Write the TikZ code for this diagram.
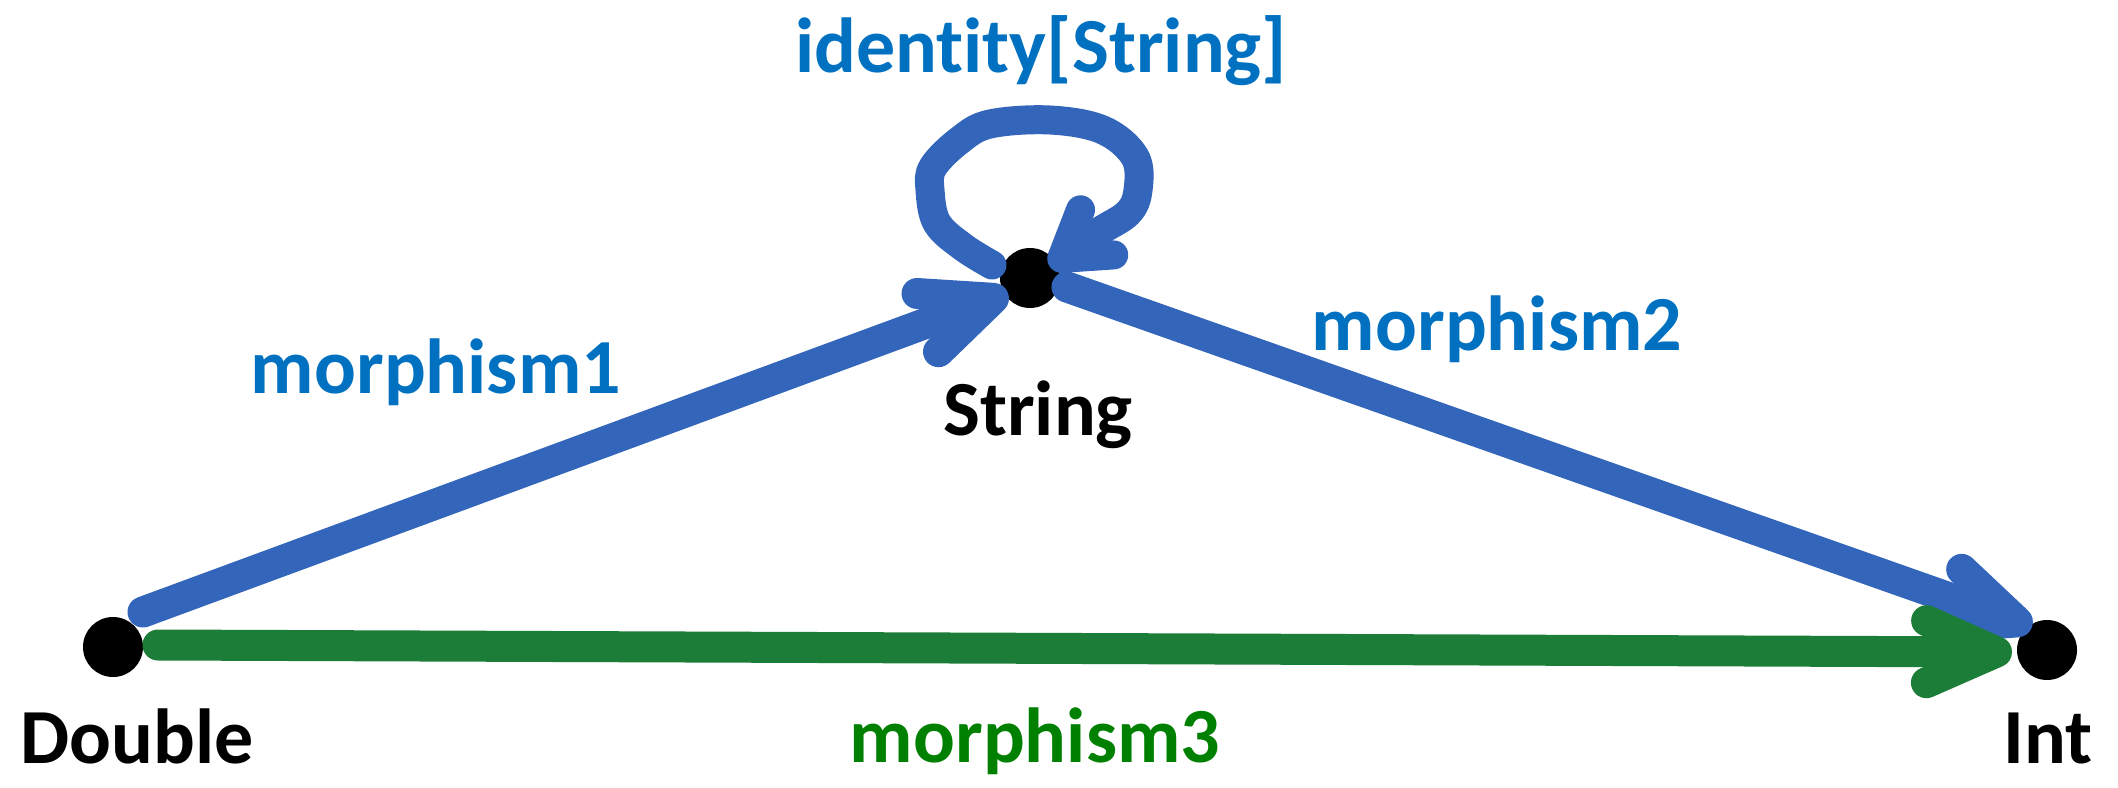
\documentclass[tikz,border=0pt]{standalone}
\usepackage{fontspec}
\setmainfont{Carlito}[Ligatures=NoCommon,RawFeature={-liga;-clig;-dlig}]
\usetikzlibrary{arrows.meta,calc}
\definecolor{txtblue}{HTML}{0070C0}
\definecolor{lnblue}{HTML}{3366BB}
\definecolor{lngreen}{HTML}{1B7D37}
\definecolor{txtgreen}{HTML}{008000}
\tikzset{
  dot/.style={circle,fill=black,minimum size=30pt,inner sep=0pt},
  lbl/.style={font=\bfseries\fontsize{39}{41}\selectfont, anchor=base, inner sep=0pt},
  conn/.style={line width=15.5pt, line cap=round, line join=round,
    -{Straight Barb[length=35pt,width=31pt,round]}},
  loopconn/.style={line width=14.5pt, line cap=round, line join=round,
    -{Straight Barb[length=22pt,width=28pt,round]}},
}
\begin{document}
\begin{tikzpicture}[x=0.5pt,y=-0.5pt]
\useasboundingbox (0,0) rectangle (2118,787);
% objects
\node[dot] (D) at (113,647) {};
\node[dot] (S) at (1030,278) {};
\node[dot] (I) at (2047,650) {};
% labels
\node[lbl] (tD) at (137,763) {Double};
\node[lbl] (tS) at (1038,435) {String};
\node[lbl] (tI) at (2048,763) {Int};
\node[lbl,text=txtblue] (m1) at (436,393) {morphism1};
\node[lbl,text=txtblue] (m2) at (1497,350) {morphism2};
\node[lbl,text=txtgreen] (m3) at (1035,762) {morphism3};
\node[lbl,text=txtblue] (id) at (1041,72) {ident\kern0pt ity[String]};
% connectors
\draw[conn,lnblue] ($(D)+(30,-35)$) -- ($(S)+(-22,15)$);
\draw[conn,lnblue] ($(S)+(37,9)$) -- ($(I)+(-15,-23)$);
\draw[conn,lngreen] ($(D)+(45,-2)$) -- ($(I)+(-35,2)$);
\begin{scope}[shift={(S)}]
\draw[loopconn,lnblue] plot[smooth,tension=0.6] coordinates {
  (-38,-13) (-67,-31) (-93,-55) (-100,-88) (-97,-111) (-70,-138) (-40,-154)
  (20,-158) (73,-148) (105,-121) (108,-88) (98,-65) (67,-45) (20,-11)};
\end{scope}
\end{tikzpicture}
\end{document}
